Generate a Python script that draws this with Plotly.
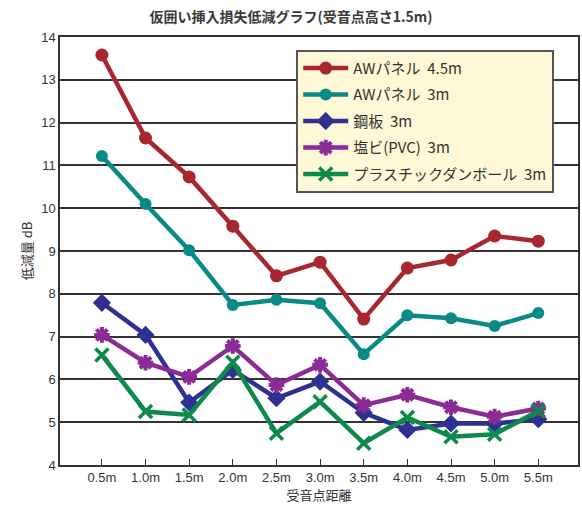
import plotly.graph_objects as go

# Receiver distances (category axis)
distances = ["0.5m", "1.0m", "1.5m", "2.0m", "2.5m", "3.0m", "3.5m", "4.0m", "4.5m", "5.0m", "5.5m"]

# Insertion-loss reduction in dB for each hoarding type
aw_panel_45 = [13.58, 11.64, 10.73, 9.58, 8.42, 8.74, 7.41, 8.60, 8.79, 9.35, 9.23]
aw_panel_3 = [11.22, 10.10, 9.02, 7.74, 7.86, 7.78, 6.59, 7.50, 7.43, 7.25, 7.55]
steel_3 = [7.79, 7.04, 5.46, 6.22, 5.56, 5.95, 5.22, 4.82, 4.97, 4.97, 5.07]
pvc_3 = [7.04, 6.39, 6.06, 6.78, 5.87, 6.34, 5.40, 5.64, 5.35, 5.13, 5.32]
plastic_cardboard_3 = [6.57, 5.25, 5.17, 6.40, 4.74, 5.48, 4.51, 5.11, 4.66, 4.72, 5.26]

y_ticks = list(range(4, 15))

JP = "Noto Sans CJK JP"
LAT = "Liberation Sans, Arial, sans-serif"
x_pos = list(range(len(distances)))

series = [
    ("AWパネル  4.5m", aw_panel_45, "#A8262E", dict(symbol="circle", size=13)),
    ("AWパネル  3m", aw_panel_3, "#0A8A86", dict(symbol="circle", size=12)),
    ("鋼板  3m", steel_3, "#2E3192", dict(symbol="diamond", size=14)),
    ("塩ビ(PVC)  3m", pvc_3, "#8A2B96",
     dict(symbol="asterisk-open", size=13, line=dict(width=4, color="#8A2B96"))),
    ("プラスチックダンボール  3m", plastic_cardboard_3, "#0D8A4A",
     dict(symbol="x-thin-open", size=13, line=dict(width=3.5, color="#0D8A4A"))),
]

fig = go.Figure()
for i, (name, vals, color, mk) in enumerate(series):
    marker = dict(color=color, **mk)
    fig.add_trace(go.Scatter(
        x=x_pos, y=vals, name=name, mode="lines+markers",
        legendgroup=f"g{i}",
        line=dict(color=color, width=4.5),
        marker=marker,
    ))

fig.update_layout(
    width=582, height=509,
    margin=dict(l=60, r=2, t=37, b=44),
    paper_bgcolor="white",
    plot_bgcolor="white",
    title=dict(
        text="<b>仮囲い挿入損失低減グラフ(受音点高さ1.5m)</b>",
        x=0.5, xanchor="center", y=0.967, yanchor="middle",
        font=dict(family=JP, size=14, color="#3a3a3a", weight=500),
    ),
    font=dict(family=LAT, size=13, color="#333333"),
    showlegend=True,
    legend=dict(
        x=0.456, xanchor="left", y=0.97, yanchor="top",
        bgcolor="#FFF8D6", bordercolor="#555555", borderwidth=2,
        font=dict(family=JP, size=15, color="#333333"),
        tracegroupgap=4, itemwidth=45,
    ),
)

fig.update_xaxes(
    range=[-0.96, 10.91],
    tickmode="array", tickvals=x_pos, ticktext=distances,
    ticks="inside", ticklen=6, tickwidth=1.2, tickcolor="#333333",
    showgrid=False, zeroline=False,
    showline=True, linecolor="#333333", linewidth=1.5, mirror=True,
    tickfont=dict(family=LAT, size=13, color="#333333"),
    title=dict(text="受音点距離", font=dict(family=JP, size=13, color="#333333"), standoff=4),
)
fig.update_yaxes(
    range=[4, 14],
    tickmode="array", tickvals=y_ticks,
    ticks="", showgrid=True, gridcolor="#333333", gridwidth=1.6,
    zeroline=False,
    showline=True, linecolor="#333333", linewidth=1.5, mirror=True,
    tickfont=dict(family=LAT, size=13, color="#333333"),
    title=dict(text="低減量 dB", font=dict(family=JP, size=13, color="#333333"), standoff=6),
)

fig.write_html("out.html")
